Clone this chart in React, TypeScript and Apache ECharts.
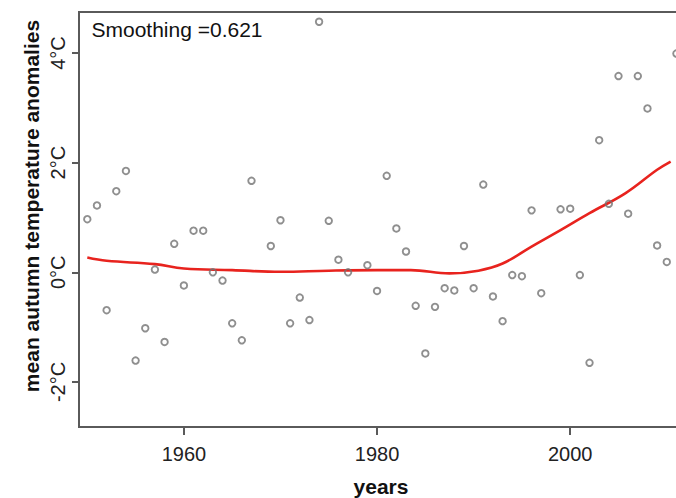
import React, { useEffect, useRef } from "react";
import * as echarts from "echarts";

const years = [
  1950, 1951, 1952, 1953, 1954, 1955, 1956, 1957, 1958, 1959,
  1960, 1961, 1962, 1963, 1964, 1965, 1966, 1967, 1969,
  1970, 1971, 1972, 1973, 1974, 1975, 1976, 1977, 1979,
  1980, 1981, 1982, 1983, 1984, 1985, 1986, 1987, 1988, 1989,
  1990, 1991, 1992, 1993, 1994, 1995, 1996, 1997, 1999,
  2000, 2001, 2002, 2003, 2004, 2005, 2006, 2007, 2008, 2009,
  2010, 2011,
];
const anomalies = [
  0.97, 1.22, -0.69, 1.48, 1.85, -1.61, -1.02, 0.05, -1.27, 0.52,
  -0.24, 0.76, 0.76, 0.0, -0.15, -0.93, -1.24, 1.67, 0.48,
  0.95, -0.93, -0.46, -0.87, 4.57, 0.94, 0.23, 0.0, 0.13,
  -0.34, 1.76, 0.8, 0.38, -0.61, -1.48, -0.63, -0.29, -0.33, 0.48,
  -0.29, 1.6, -0.44, -0.89, -0.05, -0.07, 1.13, -0.38, 1.15,
  1.16, -0.05, -1.65, 2.41, 1.25, 3.58, 1.07, 3.58, 2.99, 0.49,
  0.19, 3.99,
];

const smoothYears = [1950, 1952, 1957, 1960, 1965, 1970, 1975, 1980, 1983.5, 1987.5, 1990.5, 1993, 1996, 1999, 2002, 2005.7, 2009, 2010.4];
const smoothValues = [0.27, 0.21, 0.15, 0.07, 0.04, 0.01, 0.03, 0.04, 0.04, -0.02, 0.03, 0.16, 0.47, 0.77, 1.08, 1.44, 1.87, 2.02];

const xTicks = [1960, 1980, 2000];
const yTicks = [-2, 0, 2, 4];

const FONT = "'Liberation Sans', Arial, Helvetica, sans-serif";

export default function App() {
  const ref = useRef<HTMLDivElement>(null);
  useEffect(() => {
    if (!ref.current) return;
    const chart = echarts.init(ref.current, undefined, { renderer: "svg" });
    const axisColor = "#5a5a5a";
    chart.setOption({
      animation: false,
      backgroundColor: "#ffffff",
      grid: {
        left: 79,
        top: 12,
        right: 13.9,
        bottom: 71,
        show: true,
        borderColor: axisColor,
        borderWidth: 2,
        backgroundColor: "transparent",
      },
      xAxis: {
        type: "value",
        min: 1949.14,
        max: 2012,
        axisLine: { show: true, onZero: false, lineStyle: { color: axisColor, width: 2 } },
        splitLine: { show: false },
        axisTick: {
          show: true,
          inside: false,
          customValues: xTicks,
          length: 8,
          lineStyle: { color: axisColor, width: 2 },
        },
        axisLabel: {
          show: true,
          customValues: xTicks,
          fontSize: 20,
          lineHeight: 20,
          margin: 17,
          color: "#222",
          fontFamily: FONT,
          formatter: (v: number) => String(v),
        },
      },
      yAxis: {
        type: "value",
        min: -2.821,
        max: 4.748,
        axisLine: { show: true, onZero: false, lineStyle: { color: axisColor, width: 2 } },
        splitLine: { show: false },
        axisTick: {
          show: true,
          inside: false,
          customValues: yTicks,
          length: 7,
          lineStyle: { color: axisColor, width: 2 },
        },
        axisLabel: {
          show: true,
          customValues: yTicks,
          rotate: 90,
          fontSize: 20,
          lineHeight: 20,
          margin: 11,
          color: "#222",
          fontFamily: FONT,
          formatter: (v: number) => `${v}°C`,
        },
      },
      graphic: [
        {
          type: "text",
          x: 91.5,
          y: 29,
          style: {
            text: "Smoothing =0.621",
            font: `21px ${FONT}`,
            fill: "#111",
            textAlign: "left",
            textVerticalAlign: "middle",
          },
        },
        {
          type: "text",
          x: 381,
          y: 486,
          style: {
            text: "years",
            font: `bold 21px ${FONT}`,
            fill: "#111",
            textAlign: "center",
            textVerticalAlign: "middle",
          },
        },
        {
          type: "text",
          x: 31.5,
          y: 206,
          rotation: Math.PI / 2,
          style: {
            text: "mean autumn temperature anomalies",
            font: `bold 21px ${FONT}`,
            fill: "#111",
            textAlign: "center",
            textVerticalAlign: "middle",
          },
        },
      ],
      series: [
        {
          type: "scatter",
          data: years.map((y, i) => [y, anomalies[i]]),
          symbol: "circle",
          symbolSize: 6.5,
          itemStyle: {
            color: "rgba(255,255,255,0)",
            borderColor: "#737373",
            borderWidth: 1.9,
          },
          z: 3,
        },
        {
          type: "line",
          data: smoothYears.map((y, i) => [y, smoothValues[i]]),
          smooth: 0.4,
          showSymbol: false,
          symbol: "none",
          lineStyle: { color: "#e8231e", width: 2.6 },
          z: 2,
        },
      ],
    });
    return () => chart.dispose();
  }, []);
  return (
    <div style={{ position: "fixed", left: 0, top: 0, width: 676, height: 498, overflow: "hidden", background: "#fff" }}>
      <div ref={ref} style={{ width: 700, height: 498 }} />
    </div>
  );
}
